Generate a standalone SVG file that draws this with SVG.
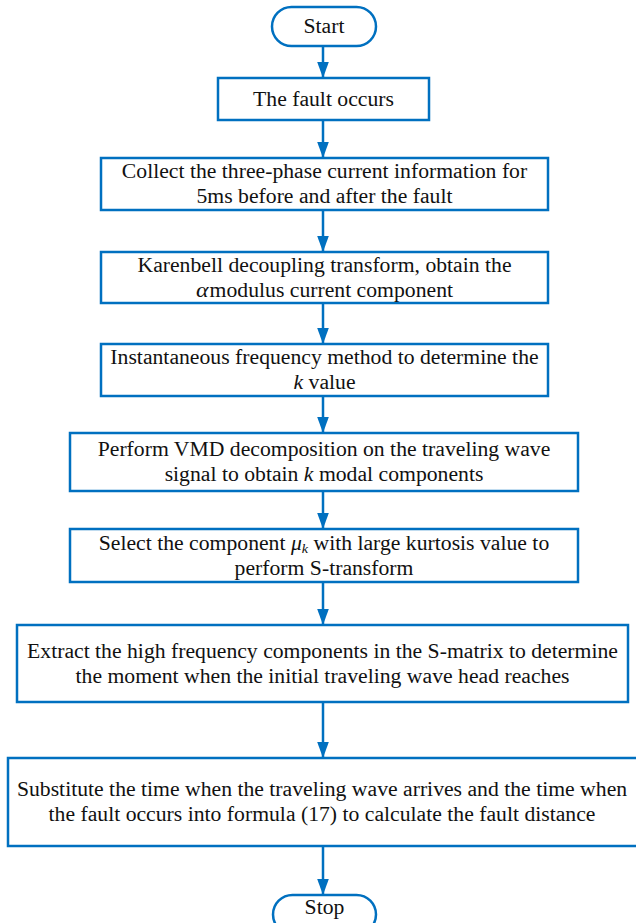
<svg xmlns="http://www.w3.org/2000/svg" width="636" height="923" viewBox="0 0 636 923">
<defs>
<style>
.box{fill:#fff;stroke:#0070C0;stroke-width:2.5}
.t{font-size:20px;fill:#111;text-anchor:middle}
.c{stroke:#0070C0;stroke-width:2.5;fill:none}
.i{font-style:italic}
</style>
<marker id="ah" markerUnits="userSpaceOnUse" markerWidth="16" markerHeight="22" refX="22" refY="8" orient="auto" viewBox="0 0 22 16">
<path d="M0,0 L22,8 L0,16 Z" fill="#0070C0"/>
</marker>
</defs>
<rect width="636" height="923" fill="#fff"/>
<g id="connectors">
<line class="c" x1="323" y1="46" x2="323" y2="78" marker-end="url(#ah)"/>
<line class="c" x1="323" y1="120" x2="323" y2="158" marker-end="url(#ah)"/>
<line class="c" x1="323" y1="210" x2="323" y2="252" marker-end="url(#ah)"/>
<line class="c" x1="323" y1="303" x2="323" y2="344" marker-end="url(#ah)"/>
<line class="c" x1="323" y1="396" x2="323" y2="433" marker-end="url(#ah)"/>
<line class="c" x1="323" y1="491" x2="323" y2="529" marker-end="url(#ah)"/>
<line class="c" x1="323" y1="582" x2="323" y2="625" marker-end="url(#ah)"/>
<line class="c" x1="323" y1="702" x2="323" y2="758" marker-end="url(#ah)"/>
<line class="c" x1="323" y1="846" x2="323" y2="895" marker-end="url(#ah)"/>
</g>
<g font-family="'Liberation Serif', 'Times New Roman', Times, serif">
<g id="start">
<rect class="box" x="272" y="7" width="104" height="39" rx="19.5"/>
<text class="t" x="0" y="33" transform="translate(324 0) scale(1.085 1)">Start</text>
</g>
<g id="fault">
<rect class="box" x="218" y="78" width="211" height="42"/>
<text class="t" x="0" y="106" transform="translate(323.5 0) scale(1.085 1)">The fault occurs</text>
</g>
<g id="collect">
<rect class="box" x="101" y="158" width="447" height="52"/>
<text class="t" x="0" y="178" transform="translate(324.5 0) scale(1.085 1)">Collect the three-phase current information for</text>
<text class="t" x="0" y="203" transform="translate(324.5 0) scale(1.085 1)">5ms before and after the fault</text>
</g>
<g id="karenbell">
<rect class="box" x="101" y="252" width="447" height="51"/>
<text class="t" x="0" y="272" transform="translate(324.5 0) scale(1.085 1)">Karenbell decoupling transform, obtain the</text>
<text class="t" x="0" y="297" transform="translate(324.5 0) scale(1.085 1)"><tspan class="i" font-size="22">α</tspan><tspan dx="1">modulus current component</tspan></text>
</g>
<g id="instfreq">
<rect class="box" x="101" y="344" width="447" height="52"/>
<text class="t" x="0" y="364" transform="translate(324.5 0) scale(1.085 1)">Instantaneous frequency method to determine the</text>
<text class="t" x="0" y="389" transform="translate(324.5 0) scale(1.085 1)"><tspan class="i">k</tspan> value</text>
</g>
<g id="vmd">
<rect class="box" x="70" y="433" width="508" height="58"/>
<text class="t" x="0" y="456" transform="translate(324 0) scale(1.085 1)">Perform VMD decomposition on the traveling wave</text>
<text class="t" x="0" y="481" transform="translate(324 0) scale(1.085 1)">signal to obtain <tspan class="i">k</tspan> modal components</text>
</g>
<g id="select">
<rect class="box" x="70" y="529" width="508" height="53"/>
<text class="t" x="0" y="550" transform="translate(324 0) scale(1.085 1)">Select the component <tspan class="i">μ</tspan><tspan class="i" font-size="13" dy="3">k</tspan><tspan dy="-3"> with large kurtosis value to</tspan></text>
<text class="t" x="0" y="575" transform="translate(324 0) scale(1.085 1)">perform S-transform</text>
</g>
<g id="extract">
<rect class="box" x="17" y="625" width="611" height="77"/>
<text class="t" x="0" y="658" transform="translate(322.5 0) scale(1.085 1)">Extract the high frequency components in the S-matrix to determine</text>
<text class="t" x="0" y="683" transform="translate(322.5 0) scale(1.085 1)">the moment when the initial traveling wave head reaches</text>
</g>
<g id="substitute">
<rect class="box" x="8" y="758" width="634" height="88"/>
<text class="t" x="0" y="796" transform="translate(322 0) scale(1.085 1)">Substitute the time when the traveling wave arrives and the time when</text>
<text class="t" x="0" y="821" transform="translate(322 0) scale(1.085 1)">the fault occurs into formula (17) to calculate the fault distance</text>
</g>
<g id="stop">
<rect class="box" x="273" y="895" width="103" height="39" rx="19.5"/>
<text class="t" x="0" y="914" transform="translate(324.5 0) scale(1.085 1)">Stop</text>
</g>
</g>
</svg>
